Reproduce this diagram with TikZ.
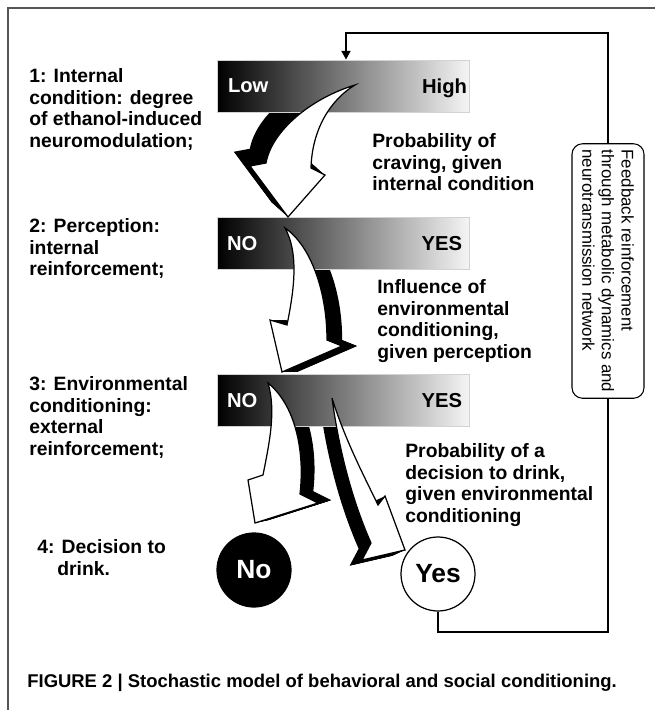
\documentclass[tikz,border=0pt]{standalone}
\usepackage{fontspec}
\setmainfont{Liberation Sans}
\usetikzlibrary{arrows.meta,positioning}
\definecolor{framegray}{HTML}{555555}

% Flechas curvas (coordenadas en pixeles de la figura)
\newcommand{\arrowone}[1]{\path[#1] (355,85) .. controls (330,100) and (312,130) .. (311,168) -- (325,175) -- (288,217) -- (250,166) -- (266,163) .. controls (272,130) and (312,98) .. cycle;}
\newcommand{\arrowtwo}[1]{\path[#1] (285,228) .. controls (310,245) and (327,290) .. (327,340) -- (342,346) -- (282,372) -- (270,320) -- (287,325) .. controls (293,295) and (300,255) .. cycle;}
\newcommand{\arrowthreeno}[1]{\path[#1] (268,383) .. controls (295,405) and (305,450) .. (300,494) -- (318,503) -- (255,523) -- (248,480) -- (263,475) .. controls (270,440) and (276,410) .. cycle;}
\newcommand{\arrowthreeyes}[1]{\path[#1] (332,398) .. controls (345,440) and (365,478) .. (378,505) -- (385,496) -- (405,550) -- (362,560) -- (371,543) .. controls (352,500) and (339,450) .. cycle;}

\tikzset{
  bar/.style={minimum width=5.04cm, minimum height=1.04cm, inner sep=0pt, left color=black, right color=gray!8, draw=gray!35, line width=0.4pt},
  extrude/.style={fill=black},
  wedge/.style={fill=white, draw=black, line width=0.7pt, line join=miter},
  level/.style={font=\fontsize{11}{12.4}\selectfont\bfseries, align=left, anchor=north west, inner sep=0pt},
  barlabel/.style={font=\fontsize{11.5}{12.4}\selectfont\bfseries, inner sep=0pt, text depth=0pt},
  answer/.style={circle, draw=black, line width=0.7pt, minimum size=1.48cm, inner sep=0pt, font=\fontsize{15}{18}\selectfont\bfseries},
  feedback/.style={line width=1.4pt, -{Triangle[width=5pt,length=5pt]}}
}

\begin{document}
\begin{tikzpicture}[x=0.02cm, y=-0.02cm]
    \useasboundingbox (0,0) rectangle (655,710);
    % Marco
    \draw[framegray, line width=0.6pt] (655,8) -- (8,8) -- (8,710);

    % Sombras de las flechas (las barras tapan la cola)
    \foreach \s in {0,0.05,...,1}{
        \arrowone{extrude, shift={(-17*\s,-15*\s)}}
        \arrowtwo{extrude, shift={(16*\s,0)}}
        \arrowthreeno{extrude, shift={(14*\s,-3*\s)}}
        \arrowthreeyes{extrude, shift={(-13*\s,6*\s)}}
    }

    % Barras de gradiente
    \node[bar] (bar1) at (343,86) {};
    \node[bar] (bar2) at (343,243.5) {};
    \node[bar] (bar3) at (343,400.5) {};

    % Flechas blancas
    \arrowone{wedge}
    \arrowtwo{wedge}
    \arrowthreeno{wedge}
    \arrowthreeyes{wedge}

    % Textos de las barras
    \node[barlabel, text=white, right=0.22cm of bar1.west] (low) {Low};
    \node[barlabel, left=0.04cm of bar1.east] (high) {High};
    \node[barlabel, text=white, right=0.2cm of bar2.west] (no2) {NO};
    \node[barlabel, left=0.14cm of bar2.east] (yes2) {YES};
    \node[barlabel, text=white, right=0.2cm of bar3.west] (no3) {NO};
    \node[barlabel, left=0.14cm of bar3.east] (yes3) {YES};

    % Niveles
    \node[level] (lvl1) at (29,68) {1: Internal\\condition: degree\\of ethanol-induced\\neuromodulation;};
    \node[level] (lvl2) at (29,218) {2: Perception:\\internal\\reinforcement;};
    \node[level] (lvl3) at (29,376) {3: Environmental\\conditioning:\\external\\reinforcement;};
    \node[level] (lvl4) at (37,539) {4: Decision to\\\hspace*{0.4cm}drink.};

    % Descripciones
    \node[level] (desc1) at (372,133) {Probability of\\craving, given\\internal condition};
    \node[level] (desc2) at (377,279) {Influence of\\environmental\\conditioning,\\given perception};
    \node[level] (desc3) at (405,443) {Probability of a\\decision to drink,\\given environmental\\conditioning};

    % Decision
    \node[answer, fill=black, text=white] (no) at (254,570) {No};
    \node[answer, fill=white] (yes) at (438,574) {Yes};

    % Lazo de retroalimentacion
    \coordinate (fbcorner) at (608,632);
    \coordinate (fbtop) at (346,33);
    \draw[feedback] (yes.south) |- (fbcorner) |- (fbtop) -- (bar1.north -| fbtop);
    \node[draw, fill=white, rounded corners=6pt, line width=0.6pt, rotate=-90, align=left, minimum width=4.76cm, minimum height=1.44cm, font=\fontsize{9.6}{11.2}\selectfont] (loop) at (608,271)
        {Feedback reinforcement\\through metabolic dynamics and\\neurotransmission network};

    % Pie de figura
    \node[anchor=base west, inner sep=0pt, font=\fontsize{10.5}{12}\selectfont\bfseries] (caption) at (27,687)
        {FIGURE 2 | Stochastic model of behavioral and social conditioning.};
\end{tikzpicture}
\end{document}
